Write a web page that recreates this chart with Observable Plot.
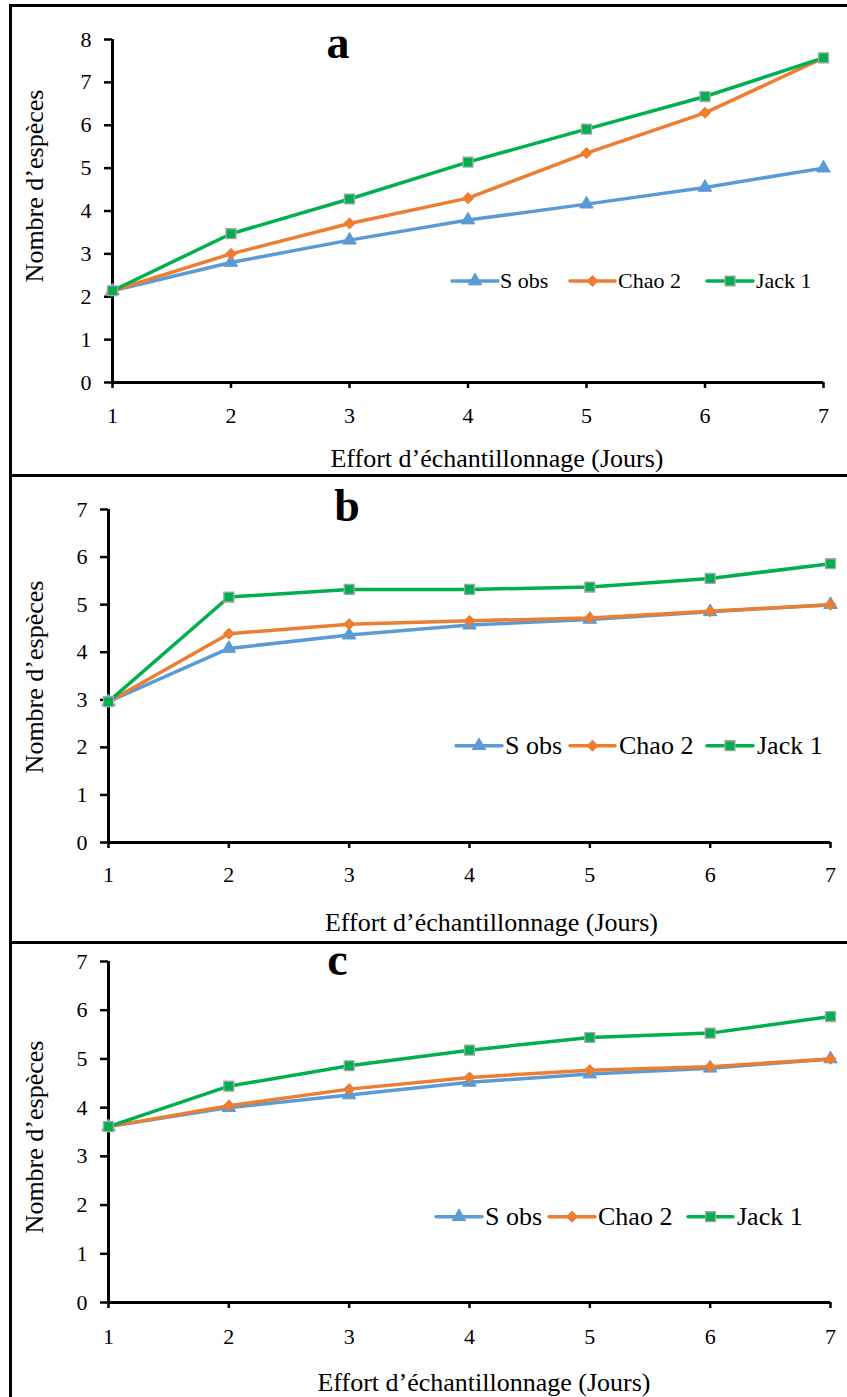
<!DOCTYPE html>
<html><head><meta charset="utf-8">
<script src="https://cdn.jsdelivr.net/npm/d3@7"></script>
<script src="https://cdn.jsdelivr.net/npm/@observablehq/plot@0.6"></script>
<style>
html,body{margin:0;padding:0;background:#fff;}
#wrap{position:relative;width:847px;height:1397px;overflow:hidden;}
#wrap > svg{position:absolute;left:0;}
</style></head><body><div id="wrap"></div>
<script>
// ---- data ----
const days = [1, 2, 3, 4, 5, 6, 7];
const seriesNames = ["S obs", "Chao 2", "Jack 1"];
const panelLetters = ["a", "b", "c"];

const sobsA = [2.14, 2.80, 3.32, 3.79, 4.16, 4.55, 5.00];
const chaoA = [2.14, 3.00, 3.71, 4.30, 5.35, 6.29, 7.57];
const jackA = [2.14, 3.47, 4.28, 5.14, 5.91, 6.67, 7.57];

const sobsB = [2.96, 4.08, 4.36, 4.57, 4.69, 4.85, 5.00];
const chaoB = [2.96, 4.39, 4.59, 4.66, 4.72, 4.86, 5.00];
const jackB = [2.96, 5.16, 5.32, 5.32, 5.37, 5.55, 5.86];

const sobsC = [3.61, 4.00, 4.26, 4.52, 4.69, 4.81, 5.00];
const chaoC = [3.61, 4.04, 4.38, 4.62, 4.77, 4.84, 5.00];
const jackC = [3.61, 4.44, 4.86, 5.18, 5.44, 5.53, 5.87];

const yTicksA = [0, 1, 2, 3, 4, 5, 6, 7, 8];
const yTicksBC = [0, 1, 2, 3, 4, 5, 6, 7];
const xTicks = [1, 2, 3, 4, 5, 6, 7];

const yTitle = "Nombre d’espèces";
const xTitle = "Effort d’échantillonnage (Jours)";

// ---- styles ----
const colors = {"S obs": "#5B9BD5", "Chao 2": "#ED7D31", "Jack 1": "#00B050"};
const symbols = {"S obs": "triangle", "Chao 2": "diamond2", "Jack 1": "square"};
const radii = {"S obs": 5, "Chao 2": 5, "Jack 1": 5.6};
const markStroke = {"S obs": "#5B9BD5", "Chao 2": "#ED7D31", "Jack 1": "#A6A6A6"};
const FONT = "Liberation Serif";

const panels = [
  {series: [sobsA, chaoA, jackA], yTicks: yTicksA, ymax: 8, top: 6, height: 470, ml: 112, mr: 24, mt: 33, mb: 94, xpad: 19,
   letter: {x: 338, y: 58}, xt: {x: 497, y: 467}, yt: {x: 43, y: 186},
   legend: {y: 281, fs: 22, items: [[452, 498, 500], [570, 615, 618], [707, 753, 756]]}},
  {series: [sobsB, chaoB, jackB], yTicks: yTicksBC, ymax: 7, top: 477, height: 465, ml: 108, mr: 17, mt: 32, mb: 100, xpad: 18,
   letter: {x: 347, y: 521}, xt: {x: 491.5, y: 930.5}, yt: {x: 43, y: 677},
   legend: {y: 745.7, fs: 26, items: [[456, 502, 505], [570, 615, 619], [707, 753, 757]]}},
  {series: [sobsC, chaoC, jackC], yTicks: yTicksBC, ymax: 7, top: 943, height: 454, ml: 108, mr: 17, mt: 18, mb: 95, xpad: 20,
   letter: {x: 337.5, y: 975}, xt: {x: 484, y: 1390.5}, yt: {x: 43, y: 1137},
   legend: {y: 1216.7, fs: 26, items: [[436, 482, 485], [549, 595, 598], [688, 733, 737]]}}
];

const wrap = document.getElementById("wrap");

panels.forEach((p) => {
  const marks = [
    Plot.ruleX([1], {stroke: "#000", strokeWidth: 3}),
    Plot.ruleY([0], {stroke: "#000", strokeWidth: 3}),
    Plot.axisY({ticks: p.yTicks, tickSize: 8, tickPadding: 13, strokeWidth: 2.5, label: null, tickFormat: d => String(d),
      fontSize: 22, fontFamily: FONT, fill: "#000"}),
    Plot.axisX({ticks: xTicks, tickSize: 6, tickPadding: p.xpad, strokeWidth: 2.5, label: null, tickFormat: d => String(d),
      fontSize: 22, fontFamily: FONT, fill: "#000"})
  ];
  seriesNames.forEach((name, i) => {
    const rows = days.map((d, k) => ({day: d, value: p.series[i][k], series: name}));
    marks.push(Plot.line(rows, {x: "day", y: "value", stroke: colors[name], strokeWidth: 3.5, strokeLinejoin: "round", strokeLinecap: "round"}));
    marks.push(Plot.dot(rows, {x: "day", y: "value", symbol: symbols[name], r: radii[name], fill: colors[name], stroke: markStroke[name], strokeWidth: name === "Jack 1" ? 1.3 : 1}));
  });
  const svg = Plot.plot({
    width: 847, height: p.height,
    marginLeft: p.ml, marginRight: p.mr, marginTop: p.mt, marginBottom: p.mb,
    x: {domain: [1, 7]},
    y: {domain: [0, p.ymax]},
    style: {fontFamily: FONT, fontSize: "22px", color: "#000", background: "transparent", overflow: "visible"},
    marks
  });
  svg.style.top = p.top + "px";
  wrap.appendChild(svg);
});

// ---- overlay: frame lines, panel letters, axis titles, legends ----
const ov = d3.create("svg").attr("width", 847).attr("height", 1397).style("top", "0px");
const frame = ov.append("g").attr("stroke", "#000").attr("stroke-width", 3);
frame.append("line").attr("x1", 10.5).attr("x2", 10.5).attr("y1", 4).attr("y2", 1397);
frame.append("line").attr("x1", 9).attr("x2", 847).attr("y1", 5.5).attr("y2", 5.5);
frame.append("line").attr("x1", 9).attr("x2", 847).attr("y1", 475.5).attr("y2", 475.5);
frame.append("line").attr("x1", 9).attr("x2", 847).attr("y1", 942.5).attr("y2", 942.5);

panels.forEach((p, i) => {
  ov.append("text").attr("x", p.letter.x).attr("y", p.letter.y).attr("text-anchor", "middle")
    .attr("font-family", FONT).attr("font-size", 46).attr("font-weight", "bold").text(panelLetters[i]);
  ov.append("text").attr("x", p.xt.x).attr("y", p.xt.y).attr("text-anchor", "middle")
    .attr("font-family", FONT).attr("font-size", 26).text(xTitle);
  ov.append("text").attr("transform", `translate(${p.yt.x},${p.yt.y}) rotate(-90)`).attr("text-anchor", "middle")
    .attr("font-family", FONT).attr("font-size", 26).text(yTitle);
  const lg = ov.append("g");
  seriesNames.forEach((name, k) => {
    const [x1, x2, tx] = p.legend.items[k];
    const y = p.legend.y;
    lg.append("line").attr("x1", x1).attr("x2", x2).attr("y1", y).attr("y2", y)
      .attr("stroke", colors[name]).attr("stroke-width", 3.5).attr("stroke-linecap", "round");
    const symType = {"triangle": d3.symbolTriangle, "diamond2": d3.symbolDiamond2, "square": d3.symbolSquare}[symbols[name]];
    lg.append("path").attr("d", d3.symbol(symType, Math.PI * radii[name] * radii[name])())
      .attr("transform", `translate(${(x1 + x2) / 2},${y})`)
      .attr("fill", colors[name]).attr("stroke", markStroke[name]).attr("stroke-width", name === "Jack 1" ? 1.3 : 1);
    lg.append("text").attr("x", tx).attr("y", y + p.legend.fs * 0.32)
      .attr("font-family", FONT).attr("font-size", p.legend.fs).text(name);
  });
});
wrap.appendChild(ov.node());
</script>
</body></html>
